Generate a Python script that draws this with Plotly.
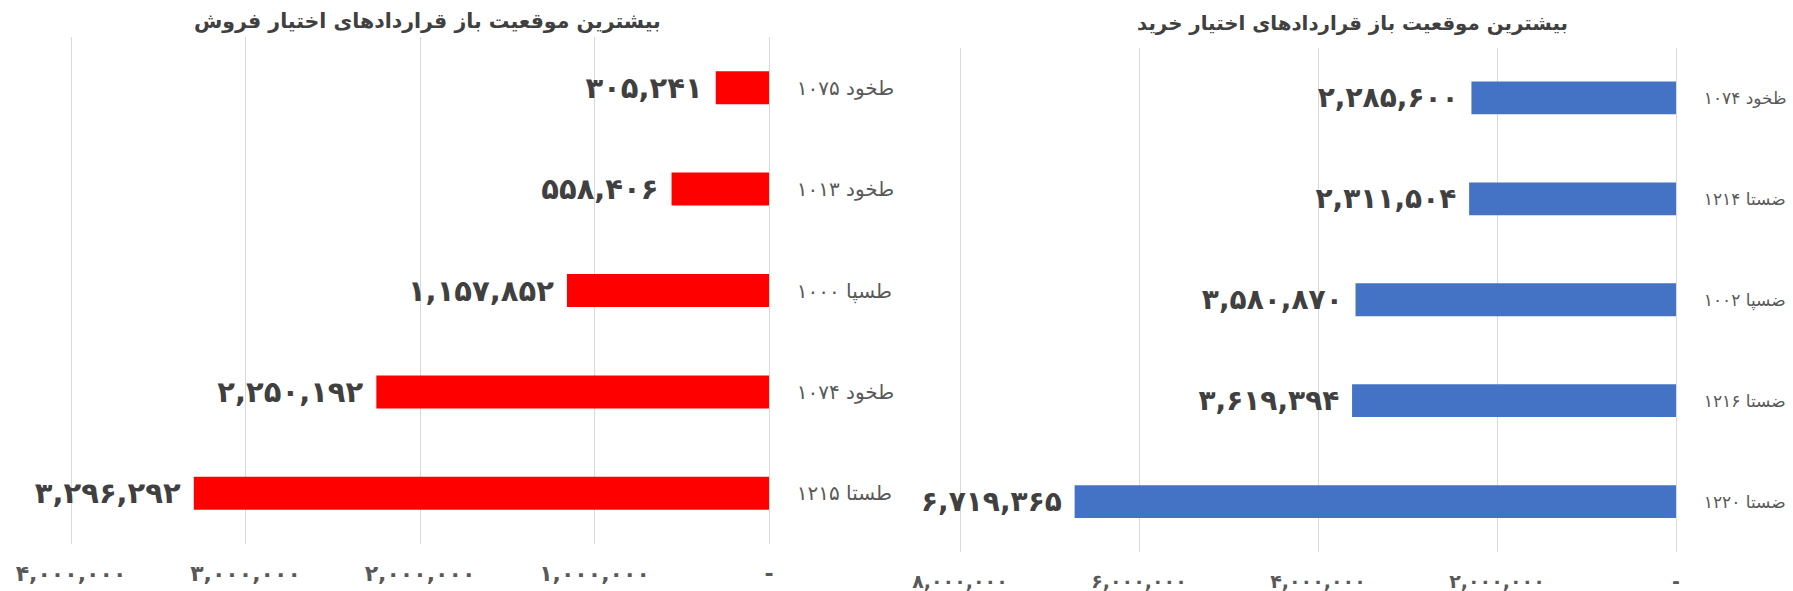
import plotly.graph_objects as go

# ---------------- data ----------------
put_title = "بیشترین موقعیت باز قراردادهای اختیار فروش"
put_names = ["طخود ۱۰۷۵", "طخود ۱۰۱۳", "طسپا ۱۰۰۰", "طخود ۱۰۷۴", "طستا ۱۲۱۵"]
put_values = [305241, 558406, 1157852, 2250192, 3296292]
put_tickvals = [0, 1000000, 2000000, 3000000, 4000000]
put_ticktext = ["-", "۱,۰۰۰,۰۰۰", "۲,۰۰۰,۰۰۰", "۳,۰۰۰,۰۰۰", "۴,۰۰۰,۰۰۰"]

call_title = "بیشترین موقعیت باز قراردادهای اختیار خرید"
call_names = ["ظخود ۱۰۷۴", "ضستا ۱۲۱۴", "ضسپا ۱۰۰۲", "ضستا ۱۲۱۶", "ضستا ۱۲۲۰"]
call_values = [2285600, 2311504, 3580870, 3619394, 6719365]
call_tickvals = [0, 2000000, 4000000, 6000000, 8000000]
call_ticktext = ["-", "۲,۰۰۰,۰۰۰", "۴,۰۰۰,۰۰۰", "۶,۰۰۰,۰۰۰", "۸,۰۰۰,۰۰۰"]

W, H = 1793, 591
FONT = "DejaVu Sans"
FA = str.maketrans("0123456789", "۰۱۲۳۴۵۶۷۸۹")


def fa(n):
    return f"{n:,}".translate(FA) + "\u00a0"


fig = go.Figure()

fig.add_trace(go.Bar(
    orientation="h", x=put_values, y=put_names, xaxis="x", yaxis="y",
    marker=dict(color="#FF0000", line=dict(width=0)),
    text=[fa(v) for v in put_values], textposition="outside",
    textfont=dict(family=FONT, size=29, color="#404040", weight="bold"),
    constraintext="none", cliponaxis=False, hoverinfo="skip", showlegend=False,
))
fig.add_trace(go.Bar(
    orientation="h", x=call_values, y=call_names, xaxis="x2", yaxis="y2",
    marker=dict(color="#4472C4", line=dict(width=0)),
    text=[fa(v) for v in call_values], textposition="outside",
    textfont=dict(family=FONT, size=28, color="#404040", weight="bold"),
    constraintext="none", cliponaxis=False, hoverinfo="skip", showlegend=False,
))

xcommon = dict(showgrid=True, gridcolor="#d9d9d9", gridwidth=1, zeroline=False,
               showline=False, ticks="", tickmode="array", automargin=False,
               fixedrange=True)
ycommon = dict(showgrid=False, zeroline=False, showline=False, ticks="", side="right",
               autorange="reversed", automargin=False, ticklabelstandoff=25,
               fixedrange=True)

# small padding so that the edge gridlines are drawn
p1 = 698 / 4000000 * 10000
p2 = 716 / 8000000 * 20000

fig.update_layout(
    width=W, height=H, margin=dict(l=0, r=0, t=0, b=0, autoexpand=False),
    paper_bgcolor="white", plot_bgcolor="white",
    bargap=0.675,
    xaxis=dict(domain=[(71 - p1) / W, (769 + p1) / W], range=[4010000, -10000], anchor="y",
               tickvals=put_tickvals, ticktext=put_ticktext, ticklabelstandoff=14,
               tickfont=dict(family=FONT, size=22, color="#595959", weight="bold"),
               **xcommon),
    yaxis=dict(domain=[1 - 544 / H, 1 - 37 / H], anchor="x",
               tickfont=dict(family=FONT, size=20, color="#595959"), **ycommon),
    xaxis2=dict(domain=[(960 - p2) / W, (1676 + p2) / W], range=[8020000, -20000], anchor="y2",
                tickvals=call_tickvals, ticktext=call_ticktext, ticklabelstandoff=16,
                tickfont=dict(family=FONT, size=19, color="#595959", weight="bold"),
                **xcommon),
    yaxis2=dict(domain=[1 - 552 / H, 1 - 47.5 / H], anchor="x2",
                tickfont=dict(family=FONT, size=17, color="#595959"), **ycommon),
    annotations=[
        dict(text=put_title, x=427 / W, y=1 - 21 / H, xref="paper", yref="paper",
             xanchor="center", yanchor="middle", showarrow=False,
             font=dict(family=FONT, size=20.5, color="#404040", weight="bold")),
        dict(text=call_title, x=1352 / W, y=1 - 23 / H, xref="paper", yref="paper",
             xanchor="center", yanchor="middle", showarrow=False,
             font=dict(family=FONT, size=19.8, color="#404040", weight="bold")),
    ],
)

fig.write_html("out.html")
